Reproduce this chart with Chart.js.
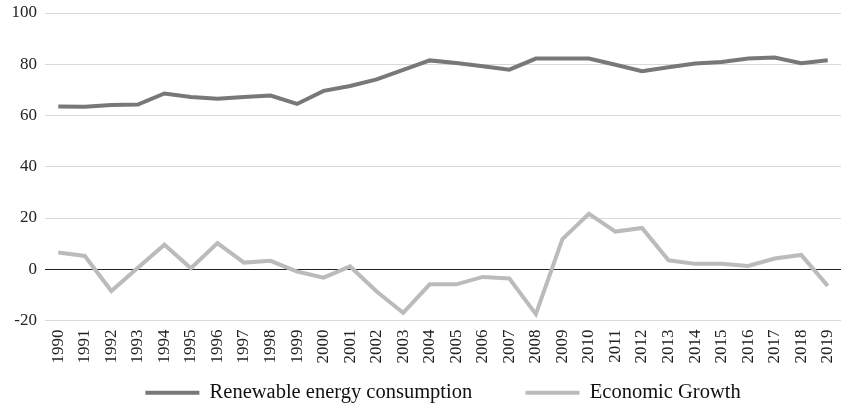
<!DOCTYPE html>
<html>
<head>
<meta charset="utf-8">
<script src="https://cdn.jsdelivr.net/npm/chart.js@4"></script>
<style>
  html, body { margin: 0; padding: 0; background: #fff; }
</style>
</head>
<body>
<canvas id="chart" width="841" height="406"></canvas>
<script>
const years = ["1990", "1991", "1992", "1993", "1994", "1995", "1996", "1997", "1998", "1999",
  "2000", "2001", "2002", "2003", "2004", "2005", "2006", "2007", "2008", "2009",
  "2010", "2011", "2012", "2013", "2014", "2015", "2016", "2017", "2018", "2019"];

const renewable = [63.5, 63.4, 64.1, 64.3, 68.6, 67.2, 66.5, 67.2, 67.8, 64.5,
  69.6, 71.5, 74.1, 77.8, 81.5, 80.5, 79.2, 77.9, 82.2, 82.2,
  82.2, 79.8, 77.3, 78.8, 80.3, 80.9, 82.2, 82.6, 80.4, 81.6];

const growth = [6.5, 5.2, -8.5, 0.6, 9.6, 0.4, 10.2, 2.6, 3.3, -0.9,
  -3.3, 1.1, -8.7, -17, -5.9, -5.9, -3.0, -3.6, -17.5, 11.8,
  21.6, 14.7, 16.1, 3.5, 2.1, 2.1, 1.3, 4.2, 5.6, -6.5];

const yMin = -20;
const yMax = 100;
const yStep = 20;

Chart.defaults.font.family = "'Liberation Serif', 'Times New Roman', serif";
Chart.defaults.color = "#222";

const ctx = document.getElementById("chart");

new Chart(ctx, {
  type: "line",
  data: {
    labels: years,
    datasets: [
      {
        label: "Renewable energy consumption",
        data: renewable,
        borderColor: "#787878",
        backgroundColor: "#787878",
        borderWidth: 4,
        pointRadius: 0,
        tension: 0
      },
      {
        label: "Economic Growth",
        data: growth,
        borderColor: "#b9bbbd",
        backgroundColor: "#b9bbbd",
        borderWidth: 4,
        pointRadius: 0,
        tension: 0
      }
    ]
  },
  options: {
    responsive: false,
    animation: false,
    layout: {
      padding: { top: 13, right: 0, left: 0, bottom: -7 }
    },
    plugins: {
      tooltip: { enabled: false },
      legend: {
        position: "bottom",
        fullSize: false,
        labels: {
          usePointStyle: true,
          pointStyle: "line",
          pointStyleWidth: 54,
          padding: 2,
          color: "#111",
          font: { size: 20.5 },
          generateLabels(chart) {
            const items = Chart.defaults.plugins.legend.labels.generateLabels(chart);
            items[0].text = items[0].text + "          ";
            return items;
          }
        }
      }
    },
    scales: {
      x: {
        offset: true,
        grid: { display: false, drawTicks: false },
        border: { display: false },
        ticks: {
          maxRotation: 90,
          minRotation: 90,
          autoSkip: false,
          padding: 9,
          font: { size: 17 }
        },
        afterFit(scale) {
          scale.height = 60;
          scale.paddingLeft = 0;
          scale.paddingRight = 0;
        }
      },
      y: {
        min: yMin,
        max: yMax,
        grid: {
          drawTicks: false,
          lineWidth: 1,
          color: (c) => (c.tick && c.tick.value === 0 ? "#222" : "#d9d9d9")
        },
        border: { display: false },
        ticks: {
          stepSize: yStep,
          padding: 8,
          font: { size: 17 }
        },
        afterFit(scale) {
          scale.width = 45;
          scale.paddingTop = 0;
          scale.paddingBottom = 0;
        }
      }
    }
  }
});
</script>
</body>
</html>
